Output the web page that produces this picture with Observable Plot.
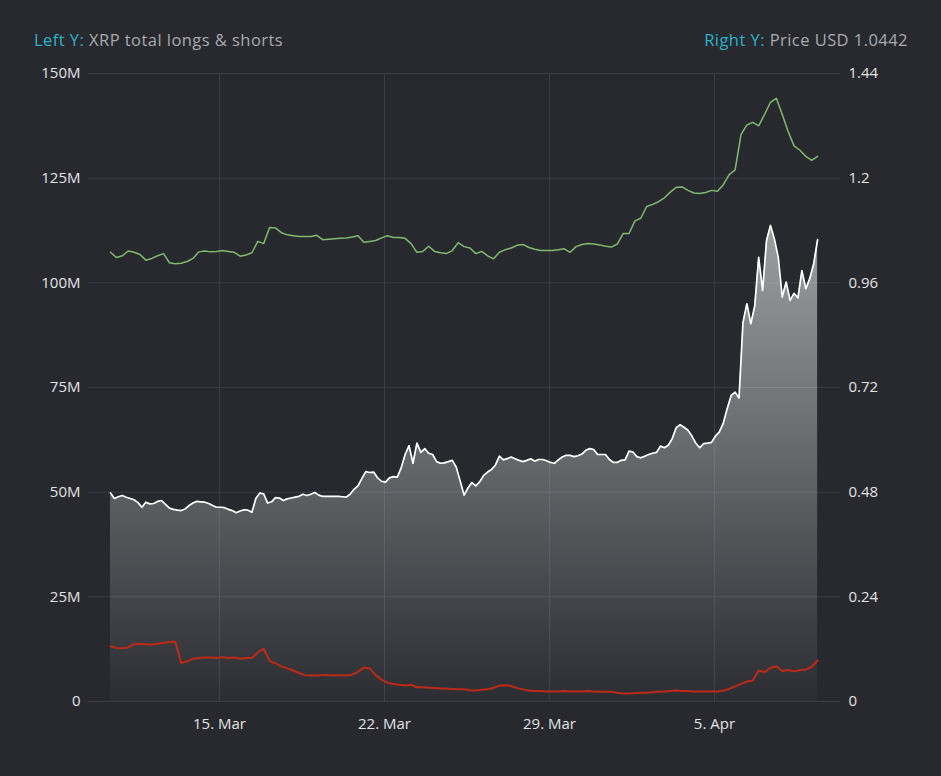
<!DOCTYPE html>
<html>
<head>
<meta charset="utf-8">
<script src="https://cdn.jsdelivr.net/npm/d3@7"></script>
<script src="https://cdn.jsdelivr.net/npm/@observablehq/plot@0.6"></script>
<style>
  html, body { margin: 0; padding: 0; background: #27292e; }
  #wrap { position: relative; width: 941px; height: 776px; font-family: "Open Sans", sans-serif; }
  #head { position: relative; height: 60px; font-size: 16.5px; letter-spacing: 0.45px; }
  #head .l { position: absolute; left: 34px; top: 28px; color: #a9abae; white-space: nowrap; }
  #head .r { position: absolute; right: 33px; top: 28px; color: #a9abae; white-space: nowrap; }
  #head .k { color: #2bb3c8; }
</style>
</head>
<body>
<div id="wrap">
  <div id="head">
    <div class="l"><span class="k">Left Y:</span> XRP total longs &amp; shorts</div>
    <div class="r"><span class="k">Right Y:</span> Price USD 1.0442</div>
  </div>
  <div id="chart"></div>
</div>
<script>
// ---------- data ----------
// first sample: 10 Mar 2021 09:00 UTC
const startUTC = Date.UTC(2021, 2, 10, 9);
const totalStepHours = 4;   // total longs & shorts sampled every 4h
const sideStepHours = 6;    // price and shorts sampled every 6h

// XRP total longs & shorts (millions)
const totalLongsShorts = [
  49.8,48.5,48.9,49.2,48.8,48.5,48.2,47.5,46.4,47.6,
  47.2,47.3,47.8,48.0,47.1,46.2,45.9,45.7,45.6,46.0,
  46.8,47.4,47.8,47.7,47.6,47.3,46.8,46.4,46.4,46.3,
  45.9,45.6,45.1,45.5,45.8,45.7,45.2,48.5,49.8,49.6,
  47.4,47.7,48.7,48.6,48.0,48.4,48.6,48.8,49.0,49.5,
  49.2,49.5,49.9,49.3,49.0,49.0,49.0,49.0,49.0,48.9,
  48.8,49.5,50.7,51.5,53.3,54.9,54.7,54.8,53.4,52.6,
  52.4,53.4,53.7,53.6,55.8,59.0,61.1,56.9,61.7,59.5,
  60.4,59.3,59.0,57.3,56.9,57.0,57.3,57.6,56.0,52.7,
  49.3,51.0,52.3,51.5,52.5,54.0,54.8,55.4,56.5,58.6,
  57.7,58.0,58.4,58.0,57.6,57.3,57.6,58.0,57.4,57.8,
  57.8,57.5,57.1,56.9,57.7,58.4,58.8,58.8,58.5,58.7,
  59.1,60.0,60.4,60.2,59.0,59.0,59.0,57.8,57.1,57.1,
  57.6,57.7,59.8,59.6,58.5,58.2,58.6,59.0,59.3,59.5,
  61.0,60.6,61.2,62.8,65.4,66.1,65.5,64.8,63.4,61.7,
  60.6,61.6,61.7,61.9,63.4,64.4,66.5,70.0,73.1,73.9,
  72.5,90.5,95.0,90.2,94.5,106.1,98.2,110.1,113.7,110.5,
  106.0,96.6,100.2,95.8,97.5,96.4,102.9,98.6,101.0,104.5,
  110.3
];

// XRP price USD
const priceUSD = [
  1.030,1.018,1.022,1.033,1.030,1.025,1.012,1.016,1.022,1.027,
  1.006,1.004,1.005,1.009,1.016,1.031,1.033,1.031,1.032,1.034,
  1.032,1.030,1.021,1.024,1.029,1.055,1.050,1.087,1.086,1.075,
  1.070,1.068,1.066,1.066,1.066,1.069,1.059,1.060,1.061,1.062,
  1.063,1.065,1.068,1.053,1.055,1.057,1.063,1.068,1.064,1.064,
  1.062,1.050,1.030,1.032,1.044,1.032,1.029,1.027,1.034,1.052,
  1.043,1.040,1.027,1.032,1.022,1.015,1.030,1.036,1.040,1.046,
  1.048,1.041,1.037,1.034,1.034,1.034,1.036,1.038,1.030,1.043,
  1.048,1.050,1.049,1.047,1.044,1.042,1.049,1.073,1.073,1.102,
  1.108,1.135,1.140,1.146,1.155,1.168,1.179,1.180,1.172,1.166,
  1.165,1.167,1.172,1.170,1.185,1.208,1.219,1.300,1.322,1.328,
  1.320,1.346,1.374,1.383,1.346,1.307,1.274,1.264,1.250,1.241,
  1.250
];

// red series (millions)
const shortsRed = [
  13.2,12.8,12.7,12.9,13.7,13.8,13.7,13.6,13.8,14.0,
  14.2,14.3,9.2,9.6,10.2,10.4,10.5,10.5,10.4,10.6,
  10.4,10.5,10.2,10.4,10.4,11.7,12.6,9.7,9.1,8.4,
  7.9,7.4,6.8,6.3,6.2,6.2,6.3,6.3,6.2,6.3,
  6.2,6.4,7.1,8.1,7.9,6.3,5.2,4.5,4.2,4.0,
  3.8,4.0,3.4,3.4,3.3,3.2,3.1,3.1,3.0,2.9,
  2.9,2.7,2.6,2.8,2.9,3.3,3.8,3.9,3.7,3.2,
  2.9,2.6,2.5,2.5,2.4,2.4,2.4,2.5,2.4,2.4,
  2.4,2.5,2.4,2.3,2.3,2.3,2.1,1.9,1.9,2.0,
  2.1,2.1,2.2,2.3,2.4,2.5,2.6,2.5,2.5,2.4,
  2.4,2.4,2.4,2.4,2.6,3.0,3.6,4.2,4.8,5.0,
  7.4,7.0,8.0,8.4,7.3,7.5,7.2,7.5,7.6,8.3,
  9.8
];

// axes
const leftTickValues = [0, 25, 50, 75, 100, 125, 150];
const leftTickLabels = ["0", "25M", "50M", "75M", "100M", "125M", "150M"];
const rightTickLabels = ["0", "0.24", "0.48", "0.72", "0.96", "1.2", "1.44"];
const priceMax = 1.44;
const leftMax = 150;
const xTickDates = ["2021-03-15", "2021-03-22", "2021-03-29", "2021-04-05"];
const xTickLabels = ["15. Mar", "22. Mar", "29. Mar", "5. Apr"];

// ---------- build ----------
const H = 3600e3;
const totalData = totalLongsShorts.map((v, i) => ({date: new Date(startUTC + i * totalStepHours * H), v}));
const priceData = priceUSD.map((p, i) => ({date: new Date(startUTC + i * sideStepHours * H), v: p * leftMax / priceMax}));
const redData = shortsRed.map((v, i) => ({date: new Date(startUTC + i * sideStepHours * H), v}));

const xTicks = xTickDates.map(s => new Date(s + "T00:00:00Z"));
const xLabelMap = new Map(xTicks.map((d, i) => [+d, xTickLabels[i]]));
const leftLabelMap = new Map(leftTickValues.map((d, i) => [d, leftTickLabels[i]]));
const rightLabelMap = new Map(leftTickValues.map((d, i) => [d, rightTickLabels[i]]));

const gridColor = "#3a3d43";
const textColor = "#e2e3e5";

const defs = () => {
  const d = d3.create("svg:defs");
  const g = d.append("linearGradient").attr("id", "areaGrad").attr("x1", 0).attr("y1", 0).attr("x2", 0).attr("y2", 1);
  g.append("stop").attr("offset", "0%").attr("stop-color", "#ffffff").attr("stop-opacity", 0.55);
  g.append("stop").attr("offset", "100%").attr("stop-color", "#ffffff").attr("stop-opacity", 0.02);
  return d.node();
};

const chart = Plot.plot({
  width: 941,
  height: 716,
  marginTop: 13,
  marginBottom: 75,
  marginLeft: 88,
  marginRight: 101,
  style: {background: "transparent", color: textColor, fontSize: "15px", fontFamily: "'Open Sans', sans-serif"},
  x: {type: "utc", domain: [new Date(Date.UTC(2021, 2, 9, 10, 36)), new Date(Date.UTC(2021, 3, 10, 8, 19))], label: null},
  y: {domain: [0, leftMax], label: null},
  marks: [
    defs,
    Plot.gridY(leftTickValues, {stroke: gridColor, strokeOpacity: 1, strokeWidth: 1}),
    Plot.gridX(xTicks, {stroke: gridColor, strokeOpacity: 1, strokeWidth: 1}),
    Plot.areaY(totalData, {x: "date", y: "v", fill: "url(#areaGrad)"}),
    Plot.lineY(redData, {x: "date", y: "v", stroke: "#bf2a18", strokeWidth: 2}),
    Plot.lineY(priceData, {x: "date", y: "v", stroke: "#82b96f", strokeWidth: 1.5}),
    Plot.lineY(totalData, {x: "date", y: "v", stroke: "#ffffff", strokeWidth: 1.7}),
    Plot.axisY(leftTickValues, {anchor: "left", tickSize: 0, tickPadding: 8, tickFormat: d => leftLabelMap.get(d), fill: textColor, label: null}),
    Plot.axisY(leftTickValues, {anchor: "right", tickSize: 0, tickPadding: 8, tickFormat: d => rightLabelMap.get(d), fill: textColor, label: null}),
    Plot.axisX(xTicks, {anchor: "bottom", tickSize: 0, tickPadding: 17, tickFormat: d => xLabelMap.get(+d), fill: textColor, label: null})
  ]
});
document.getElementById("chart").appendChild(chart);
</script>
</body>
</html>
